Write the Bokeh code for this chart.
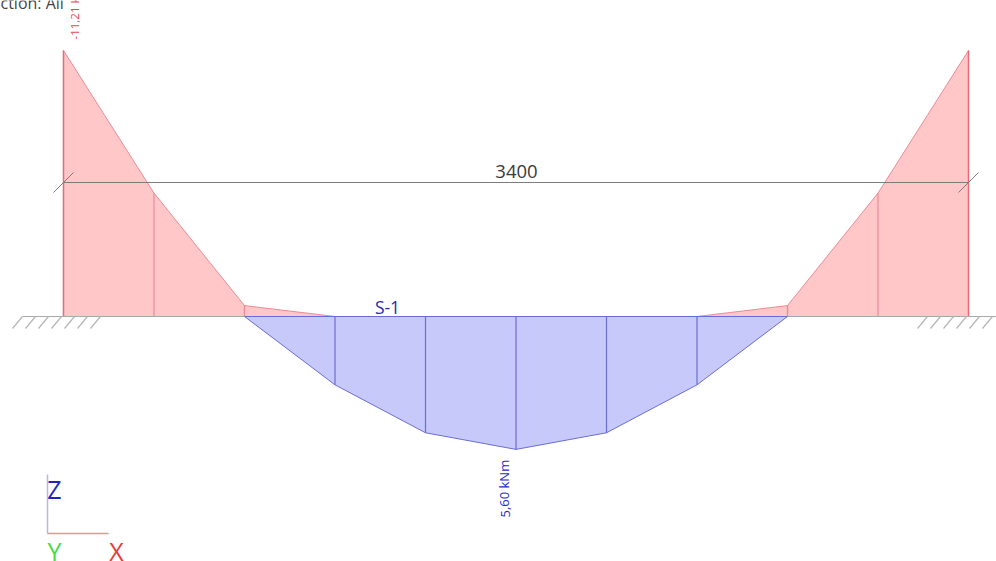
from bokeh.plotting import figure
from bokeh.embed import file_html
from bokeh.resources import INLINE
from bokeh.core.properties import value
from bokeh.models import Range1d

# Beam stations (mm) and bending moment (kNm)
span = 3400
stations = [0, 340, 680, 1020, 1360, 1700, 2040, 2380, 2720, 3060, 3400]
neg_x_left = [0, 340, 680, 680, 1020]
neg_m_left = [-11.21, -5.20, -0.46, -0.46, 0.0]
neg_x_right = [2380, 2720, 2720, 3060, 3400]
neg_m_right = [0.0, -0.46, -0.46, -5.20, -11.21]
pos_x = [680, 1020, 1360, 1700, 2040, 2380, 2720]
pos_m = [0.0, 2.88, 4.90, 5.60, 4.90, 2.88, 0.0]

W, H = 996, 561
X0, X1 = 63.0, 968.0   # pixel of beam ends
Y0 = 316.0             # pixel of beam axis
KY = 23.73             # px per kNm
KX = (X1 - X0) / span

def fx(px):
    return (px - X0) / KX

def fy(py):
    return (py - Y0) / KY

p = figure(width=W, height=H, output_backend="svg", toolbar_location=None,
           x_range=Range1d(fx(0), fx(W)), y_range=Range1d(fy(H), fy(0)),
           min_border=0, margin=(0, 0, 0, 0))
p.axis.visible = False
p.grid.visible = False
p.outline_line_color = None
p.background_fill_color = "white"

RED_F, RED_E = "#ffc7c8", "#ec8b95"
BLUE_F, BLUE_E = "#c7c9fb", "#6a6dd2"

def area(xs, ms, fill, edge):
    p.patch(xs + [xs[-1], xs[0]], ms + [0, 0], fill_color=fill, line_color=None)
    p.line(xs, ms, line_color=edge, line_width=1)

area(pos_x, pos_m, BLUE_F, BLUE_E)
p.segment(pos_x, [0]*len(pos_x), pos_x, pos_m, line_color=BLUE_E, line_width=1.2)

for xs, ms in ((neg_x_left, neg_m_left), (neg_x_right, neg_m_right)):
    area(xs, ms, RED_F, RED_E)
    p.segment(xs, [0]*len(xs), xs, ms, line_color=RED_E, line_width=1.2)

# stronger support verticals
p.segment([0, span], [0, 0], [0, span], [neg_m_left[0], neg_m_right[-1]], line_color="#e96a76", line_width=1.4)

# beam axis and blue top edge
p.segment([fx(22)], [0], [fx(996)], [0], line_color="#a9a9a9", line_width=1)
p.segment([680], [0], [2720], [0], line_color="#6a6cd6", line_width=1.2)

# supports: hatch
for start in (12, 917):
    bx = [start + 13*i for i in range(7 if start == 12 else 6)]
    p.segment([fx(b) for b in bx], [fy(328)]*len(bx),
              [fx(b + 10) for b in bx], [fy(316)]*len(bx),
              line_color="#b5b5b5", line_width=1.2)

# dimension line
dim = fy(182)
p.segment([0], [dim], [span], [dim], line_color="#7c7c7c", line_width=1)
p.segment([fx(53), fx(958)], [fy(192)]*2, [fx(73), fx(978)], [fy(172)]*2,
          line_color="#7c7c7c", line_width=1)

def label(px, py, txt, color, size, align="center", base="middle", angle=0, font="Open Sans", style="normal"):
    p.text([fx(px)], [fy(py)], text=[txt], text_color=color, text_font=value(font),
           text_font_size=f"{size}px", text_align=align, text_baseline=base, angle=angle,
           text_font_style=style)

label(516, 171, "3400", "#3a3a3a", 18.5)
label(387, 306, "S-1", "#2a2ab0", 17.5)
label(0, 2, "ction:   All", "#444444", 16, align="left")
label(74, 39, "-11,21 kNm", "#e8434f", 11.5, align="left", angle=1.5708)
label(504, 517, "5,60 kNm", "#2a2ac8", 13, align="left", angle=1.5708)

# triad
p.segment([fx(47)], [fy(533)], [fx(47)], [fy(474)], line_color="#b9b9e6", line_width=1.5)
p.segment([fx(47)], [fy(533)], [fx(108)], [fy(533)], line_color="#f09090", line_width=1.5)
label(54, 488, "Z", "#2222cc", 25)
label(54, 550, "Y", "#44dd44", 25)
label(116, 550, "X", "#e83a3a", 25)

open("out.html", "w").write(file_html(p, INLINE))
